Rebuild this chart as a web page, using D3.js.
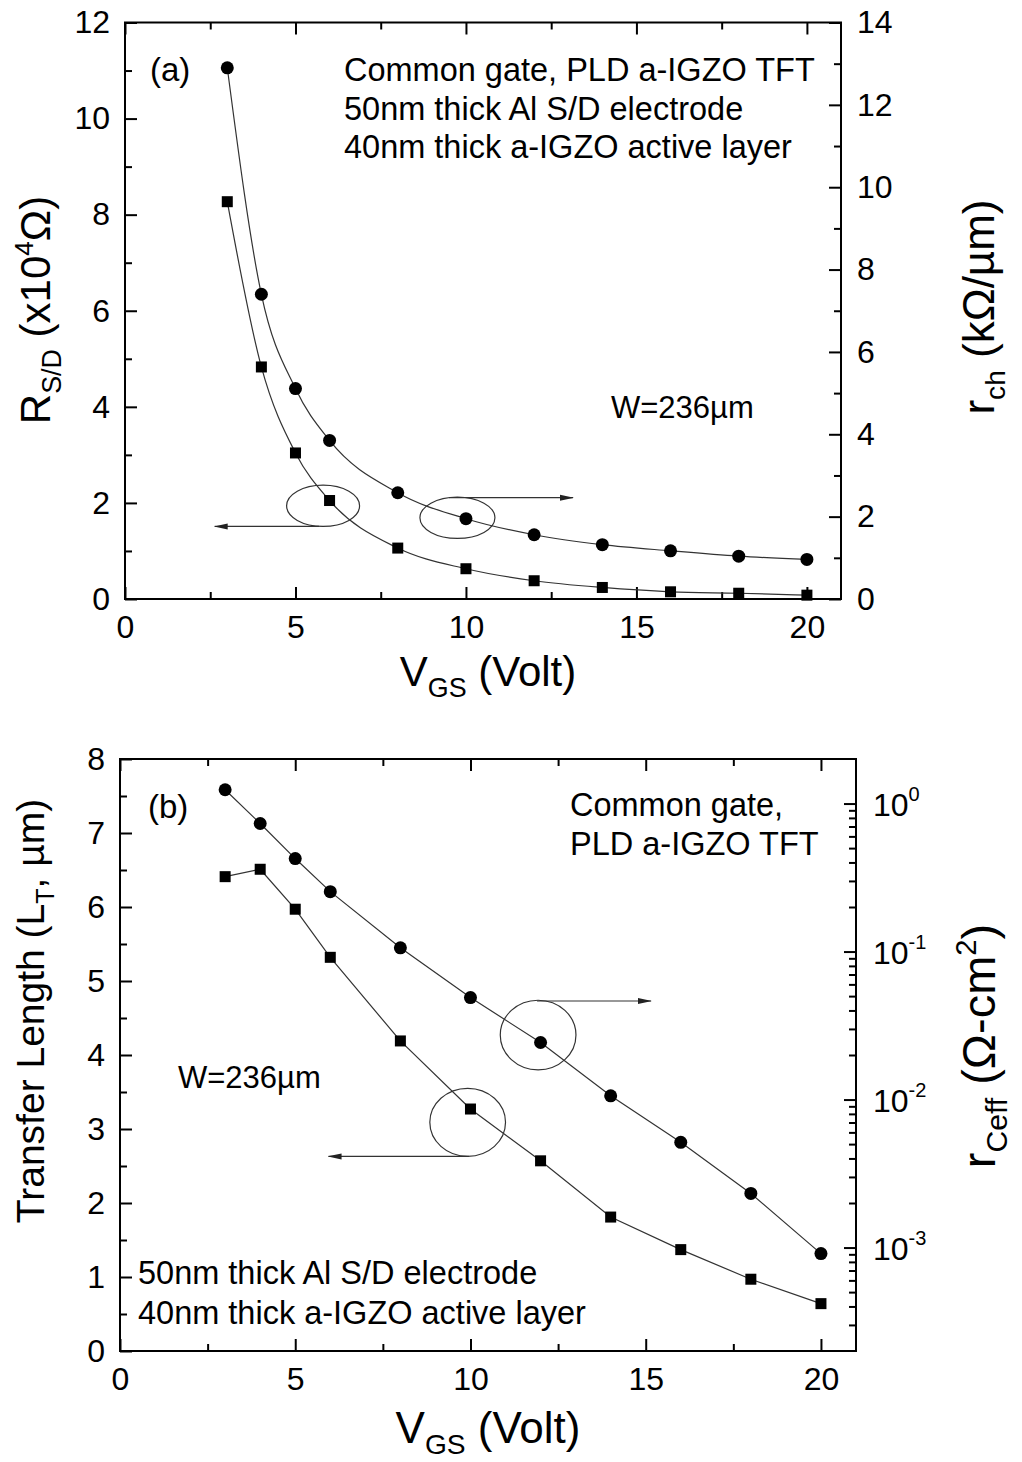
<!DOCTYPE html>
<html>
<head>
<meta charset="utf-8">
<script src="https://cdn.jsdelivr.net/npm/d3@7"></script>
<style>
  body { margin: 0; background: #fff; }
  svg { display: block; }
  text { font-family: "Liberation Sans", Arial, sans-serif; fill: #000; }
  .frame { fill: none; stroke: #000; stroke-width: 2; }
  .axis path { display: none; }
  .axis line { stroke: #000; stroke-width: 2; }
  .axis text { font-size: 32px; }
  .curve { fill: none; stroke: #333; stroke-width: 1.2; }
  .note { fill: none; stroke: #333; stroke-width: 1.2; }
</style>
</head>
<body>
<div class="chart"></div>
<script>
const WIDTH = 1022;
const HEIGHT = 1462;

// gate voltage (x) shared by both panels
const vgs = [3, 4, 5, 6, 8, 10, 12, 14, 16, 18, 20];
// panel (a)
const rsd = [8.27, 4.83, 3.04, 2.05, 1.06, 0.63, 0.38, 0.24, 0.15, 0.12, 0.08];   // x10^4 ohm
const rch = [12.9, 7.40, 5.11, 3.85, 2.58, 1.95, 1.56, 1.32, 1.17, 1.04, 0.96];   // kohm/um
// panel (b)
const lt = [6.41, 6.51, 5.97, 5.32, 4.19, 3.27, 2.57, 1.81, 1.37, 0.97, 0.64];    // um
const rceff = [1.24, 0.733, 0.425, 0.254, 0.106, 0.0489, 0.0243, 0.0106, 0.00514, 0.00232, 0.00091]; // ohm-cm2

const xMajor = [0, 5, 10, 15, 20];
const xMinor = [2.5, 7.5, 12.5, 17.5];
const aLeftMajor = [0, 2, 4, 6, 8, 10, 12];
const aLeftMinor = [1, 3, 5, 7, 9, 11];
const aRightMajor = [0, 2, 4, 6, 8, 10, 12, 14];
const aRightMinor = [1, 3, 5, 7, 9, 11, 13];
const bLeftMajor = [0, 1, 2, 3, 4, 5, 6, 7, 8];
const bLeftMinor = [0.5, 1.5, 2.5, 3.5, 4.5, 5.5, 6.5, 7.5];
const bRightMajor = [-3, -2, -1, 0];   // exponents

const translate = function (x, y) {
    return "translate(" + x + "," + y + ")";
};

const svg = d3.select('.chart').append('svg')
    .attr('width', WIDTH)
    .attr('height', HEIGHT);

svg.append('defs').append('marker')
    .attr('id', 'arrow')
    .attr('viewBox', '0 0 14 8')
    .attr('refX', 13).attr('refY', 4)
    .attr('markerWidth', 14).attr('markerHeight', 8)
    .attr('markerUnits', 'userSpaceOnUse')
    .attr('orient', 'auto')
    .append('path')
    .attr('d', 'M0,1 L14,4 L0,7 Z')
    .attr('fill', '#222');

// draws frame, ticks, labels for one panel
const drawFrame = function (p) {
    const g = svg.append('g');
    const w = p.x.range()[1] - p.x.range()[0];
    const h = p.yl.range()[0] - p.yl.range()[1];
    const x0 = p.x.range()[0], y0 = p.yl.range()[1];

    // bottom
    g.append('g').attr('class', 'axis').attr('transform', translate(0, y0 + h))
        .call(d3.axisBottom(p.x).tickValues(xMajor).tickSize(-12).tickPadding(16));
    g.append('g').attr('class', 'axis').attr('transform', translate(0, y0 + h))
        .call(d3.axisBottom(p.x).tickValues(xMinor).tickSize(-7).tickFormat(''));
    // top
    g.append('g').attr('class', 'axis').attr('transform', translate(0, y0))
        .call(d3.axisTop(p.x).tickValues(xMajor).tickSize(-12).tickFormat(''));
    g.append('g').attr('class', 'axis').attr('transform', translate(0, y0))
        .call(d3.axisTop(p.x).tickValues(xMinor).tickSize(-7).tickFormat(''));
    // left
    g.append('g').attr('class', 'axis').attr('transform', translate(x0, 0))
        .call(d3.axisLeft(p.yl).tickValues(p.leftMajor).tickSize(-12).tickPadding(15).tickFormat(d3.format('d')));
    g.append('g').attr('class', 'axis').attr('transform', translate(x0, 0))
        .call(d3.axisLeft(p.yl).tickValues(p.leftMinor).tickSize(-7).tickFormat(''));
    // right
    g.append('g').attr('class', 'axis').attr('transform', translate(x0 + w, 0))
        .call(d3.axisRight(p.yr).tickValues(p.rightMajor).tickSize(-12).tickPadding(16).tickFormat(p.rightFormat || d3.format('d')));
    g.append('g').attr('class', 'axis').attr('transform', translate(x0 + w, 0))
        .call(d3.axisRight(p.yr).tickValues(p.rightMinor).tickSize(-7).tickFormat(''));

    g.append('rect').attr('class', 'frame')
        .attr('x', x0).attr('y', y0).attr('width', w).attr('height', h);
    return g;
};

const drawSeries = function (g, x, y, xs, ys, shape, curve) {
    const pts = xs.map((v, i) => [x(v), y(ys[i])]);
    g.append('path').attr('class', 'curve')
        .attr('d', d3.line().curve(curve)(pts));
    if (shape === 'circle') {
        g.selectAll(null).data(pts).enter().append('circle')
            .attr('cx', d => d[0]).attr('cy', d => d[1]).attr('r', 6.5).attr('fill', '#000');
    } else {
        g.selectAll(null).data(pts).enter().append('rect')
            .attr('x', d => d[0] - 5.5).attr('y', d => d[1] - 5.5)
            .attr('width', 11).attr('height', 11).attr('fill', '#000');
    }
};

const callout = function (g, x, y, c, rx, ry, a) {
    g.append('ellipse').attr('class', 'note')
        .attr('cx', x(c[0])).attr('cy', y(c[1]))
        .attr('rx', x(c[0] + rx) - x(c[0])).attr('ry', y(c[1] - ry) - y(c[1]));
    g.append('line').attr('class', 'note')
        .attr('x1', x(a[0])).attr('y1', y(a[2]))
        .attr('x2', x(a[1])).attr('y2', y(a[2]))
        .attr('marker-end', 'url(#arrow)');
};

// rich text helper: parts = [[text, kind]], kind '' | 'sub' | 'sup'
const richText = function (sel, parts, size) {
    let shift = 0;
    parts.forEach(function (p) {
        const t = sel.append('tspan').text(p[0]);
        let target = 0;
        if (p[1] === 'sub') { target = size * 0.26; t.attr('font-size', size * 0.64); }
        else if (p[1] === 'sup') { target = -size * 0.4; t.attr('font-size', size * 0.62); }
        t.attr('dy', target - shift);
        shift = target;
    });
    return sel;
};

const label = function (x, y, parts, size, rot, anchor) {
    const t = svg.append('text')
        .attr('transform', translate(x, y) + (rot ? ' rotate(' + rot + ')' : ''))
        .attr('font-size', size)
        .attr('text-anchor', anchor || 'middle');
    richText(t, parts, size);
    return t;
};

// ---------- panel (a) ----------
const xa = d3.scaleLinear().domain([0, 21]).range([125, 841]);
const yaL = d3.scaleLinear().domain([0, 12]).range([599, 22.5]);
const yaR = d3.scaleLinear().domain([0, 14]).range([599, 22.5]);

const ga = drawFrame({ x: xa, yl: yaL, yr: yaR,
    leftMajor: aLeftMajor, leftMinor: aLeftMinor,
    rightMajor: aRightMajor, rightMinor: aRightMinor });

drawSeries(ga, xa, yaL, vgs, rsd, 'square', d3.curveMonotoneX);
drawSeries(ga, xa, yaR, vgs, rch, 'circle', d3.curveMonotoneX);
callout(ga, xa, yaL, [5.81, 1.94], 1.07, 0.43, [5.69, 2.63, 1.51]);
callout(ga, xa, yaL, [9.75, 1.69], 1.1, 0.43, [9.5, 13.14, 2.11]);

label(150, 81, [['(a)', '']], 33, 0, 'start');
label(344, 81, [['Common gate, PLD a-IGZO TFT', '']], 32.5, 0, 'start');
label(344, 120, [['50nm thick Al S/D electrode', '']], 32.5, 0, 'start');
label(344, 158, [['40nm thick a-IGZO active layer', '']], 32.5, 0, 'start');
label(611, 418, [['W=236\u00b5m', '']], 31, 0, 'start');

label(488, 686, [['V', ''], ['GS', 'sub'], [' (Volt)', '']], 42);
label(50, 310, [['R', ''], ['S/D', 'sub'], [' (x10', ''], ['4', 'sup'], ['\u03a9)', '']], 42, -90);
label(994, 307, [['r', ''], ['ch', 'sub'], [' (k\u03a9/\u00b5m)', '']], 44, -90);

// ---------- panel (b) ----------
const xb = d3.scaleLinear().domain([0, 21]).range([120, 856]);
const ybL = d3.scaleLinear().domain([0, 8]).range([1351, 759]);
const ybR = d3.scaleLog().domain([2e-4, 2]).range([1351, 759]);

const rightMinorB = [];
[-4, -3, -2, -1, 0].forEach(function (e) {
    for (let m = 2; m <= 9; m++) {
        const v = m * Math.pow(10, e);
        if (v > 2e-4 && v < 2) rightMinorB.push(v);
    }
});

const gb = drawFrame({ x: xb, yl: ybL, yr: ybR,
    leftMajor: bLeftMajor, leftMinor: bLeftMinor,
    rightMajor: bRightMajor.map(e => Math.pow(10, e)), rightMinor: rightMinorB,
    rightFormat: () => '' });

// log labels 10^n
gb.append('g').selectAll(null).data(bRightMajor).enter().append('text')
    .attr('x', 873).attr('y', e => ybR(Math.pow(10, e)) + 12)
    .attr('font-size', 32)
    .each(function (e) {
        const t = d3.select(this);
        t.append('tspan').text('10');
        t.append('tspan').text(e === 0 ? '0' : '-' + Math.abs(e))
            .attr('font-size', 20).attr('dy', -15);
    });

drawSeries(gb, xb, ybL, vgs, lt, 'square', d3.curveLinear);
drawSeries(gb, xb, ybR, vgs, rceff, 'circle', d3.curveLinear);
callout(gb, xb, ybL, [11.93, 4.27], 1.08, 0.47, [11.9, 15.15, 4.73]);
callout(gb, xb, ybL, [9.92, 3.09], 1.08, 0.46, [9.95, 5.95, 2.63]);

label(148, 818, [['(b)', '']], 33, 0, 'start');
label(570, 816, [['Common gate,', '']], 32.5, 0, 'start');
label(570, 855, [['PLD a-IGZO TFT', '']], 32.5, 0, 'start');
label(178, 1088, [['W=236\u00b5m', '']], 31, 0, 'start');
label(138, 1284, [['50nm thick Al S/D electrode', '']], 32.5, 0, 'start');
label(138, 1324, [['40nm thick a-IGZO active layer', '']], 32.5, 0, 'start');

label(488, 1443, [['V', ''], ['GS', 'sub'], [' (Volt)', '']], 44);
label(44, 1011, [['Transfer Length (L', ''], ['T', 'sub'], [', \u00b5m)', '']], 39, -90);
label(995, 1046, [['r', ''], ['Ceff', 'sub'], [' (\u03a9-cm', ''], ['2', 'sup'], [')', '']], 47, -90);
</script>
</body>
</html>
